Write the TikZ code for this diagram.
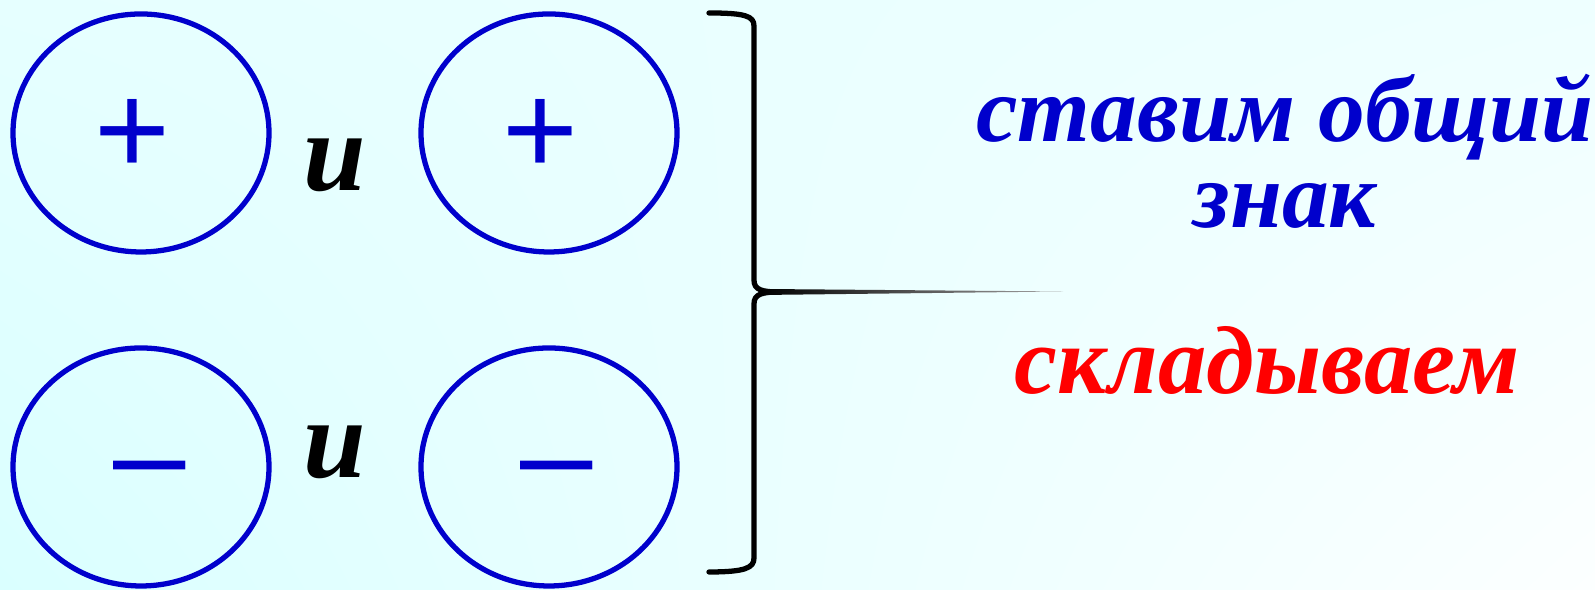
\documentclass[tikz,border=0pt]{standalone}
\usepackage{fontspec}
\setmainfont{Liberation Serif}
\newfontfamily\signfont{Liberation Sans}
\usepackage{xcolor}
\usepackage{tikz}
\usetikzlibrary{shapes.geometric,shadings}
\definecolor{sgnblue}{RGB}{0,0,204}
\definecolor{sgnred}{RGB}{255,0,0}
\definecolor{bgcyan}{RGB}{218,255,255}
\definecolor{bgcyanl}{RGB}{230,255,255}
\definecolor{bgcyanr}{RGB}{238,255,255}
\definecolor{bgwhite}{RGB}{252,255,255}

\begin{document}
\begin{tikzpicture}[
    oval/.style={draw=sgnblue, line width=1.5pt, ellipse, minimum width=2.56cm, minimum height=2.38cm},
    sign/.style={text=sgnblue, inner sep=0pt, font=\signfont\fontsize{37}{37}\selectfont},
    conj/.style={inner sep=0pt, anchor=base, font=\bfseries\itshape\fontsize{32}{32}\selectfont},
    rule/.style={text=sgnblue, align=center, inner sep=0pt, font=\bfseries\itshape\fontsize{26.6}{24.7}\selectfont},
    bracel/.style={line width=1.5pt, line cap=round}]
  % ---- background ----
  \shade[upper left=bgcyanl, upper right=bgcyanr, lower left=bgcyan, lower right=bgwhite]
    (0,0) rectangle (15.95,5.9);
  \useasboundingbox (0,0) rectangle (15.95,5.9);
  % ---- left: the two pairs of signs ----
  \node[oval] (pa) at (1.41,4.57) {};
  \node[oval] (pb) at (5.49,4.57) {};
  \node[oval] (ma) at (1.41,1.23) {};
  \node[oval] (mb) at (5.49,1.23) {};
  \node[sign] (spa) at (1.325,4.535) {+};
  \node[sign] (spb) at (5.405,4.535) {+};
  \node[sign] (sma) at (1.495,1.10) {–};
  \node[sign] (smb) at (5.565,1.10) {–};
  \node[conj] (andp) at (3.35,3.99) {и};
  \node[conj] (andm) at (3.35,1.12) {и};
  % ---- brace with its tail ----
  \draw[bracel] (7.09,5.77) .. controls (7.45,5.77) and (7.54,5.74) .. (7.54,5.64)
    -- (7.54,3.10) .. controls (7.54,3.00) and (7.62,2.98) .. (7.80,2.98);
  \draw[bracel] (7.80,2.98) .. controls (7.62,2.98) and (7.54,2.96) .. (7.54,2.86)
    -- (7.54,0.32) .. controls (7.54,0.22) and (7.45,0.18) .. (7.09,0.18);
  \shade[left color=black, right color=black!35]
    (7.62,3.01) -- (10.63,2.985) -- (7.62,2.95) -- cycle;
  % ---- right: the rule ----
  \node[rule, anchor=base] (same) at (12.85,3.62) {ставим общий\\знак};
  \node[rule, text=sgnred, anchor=base, font=\bfseries\itshape\fontsize{27.5}{24.7}\selectfont]
    (addup) at (12.67,1.96) {складываем};
\end{tikzpicture}
\end{document}
